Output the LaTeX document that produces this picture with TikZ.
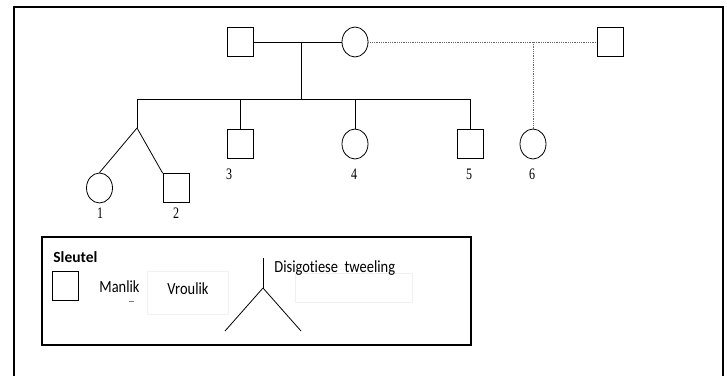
\documentclass[tikz,border=0pt]{standalone}
\usepackage{fontspec}
\setmainfont{Liberation Serif}
\newfontfamily\keyfont[Ligatures=NoCommon]{Carlito}
\usetikzlibrary{positioning,shapes.geometric}
\newcommand{\narrowtext}[2]{\scalebox{#1}[1]{#2}}
\tikzset{male/.style={draw,rectangle,inner sep=0pt,minimum width=26pt,minimum height=29pt}}
\tikzset{female/.style={draw,ellipse,inner sep=0pt,minimum width=26pt,minimum height=30pt}}
\tikzset{num/.style={font=\fontsize{16}{16}\selectfont,inner sep=0pt}}
\tikzset{keytext/.style={font=\keyfont\fontsize{17}{17}\selectfont,inner sep=0pt,anchor=west}}

\begin{document}
\begin{tikzpicture}[x=1pt,y=-1pt,line width=0.8pt]
      \useasboundingbox (0,0) rectangle (727,375);
      \clip (0,0) rectangle (727,375);
      \draw[line width=2.6pt] (14,7) rectangle (723,390);
      % parents
      \node[male] (fa) at (240,42) {};
      \node[female] (mo) at (355,42) {};
      \node[male] (st) at (610,42) {};
      % children
      \node[female] (t1) at (99.5,188) {};
      \node[male] (t2) at (176,188) {};
      \node[male] (c3) at (240,144) {};
      \node[female] (c4) at (355,144) {};
      \node[male] (c5) at (470,144) {};
      \node[female] (c6) at (533,144) {};
      \coordinate (mid) at (301,42);
      \coordinate (sib) at (301,99);
      \coordinate (sibl) at (137,99);
      \coordinate (sibr) at (470,99);
      \coordinate (apex) at (137,128);
      \coordinate (half) at (533,42);
      \draw (fa) -- (mo);
      \draw (mid) -- (sib);
      \draw (sibl) -- (sibr);
      \draw (sibl) -- (apex);
      \draw (apex) -- (t1.north);
      \draw (apex) -- (t2.north west);
      \draw (c3.north |- sibl) -- (c3.north);
      \draw (c4.north |- sibl) -- (c4.north);
      \draw (c5.north |- sibl) -- (c5.north);
      \draw[densely dotted,gray!80!black] (mo) -- (st);
      \draw[densely dotted,gray!80!black] (half) -- (c6.north);
      \node[num] (n1) at (100,213) {\narrowtext{0.75}{1}};
      \node[num] (n2) at (176,213) {\narrowtext{0.75}{2}};
      \node[num] (n3) at (229,174) {\narrowtext{0.75}{3}};
      \node[num] (n4) at (354,174) {\narrowtext{0.75}{4}};
      \node[num] (n5) at (469,174) {\narrowtext{0.75}{5}};
      \node[num] (n6) at (532,174) {\narrowtext{0.75}{6}};
      % key
      \draw[line width=2.6pt] (42,237) rectangle (471,345);
      \node[keytext,font=\keyfont\bfseries\fontsize{15.5}{15.5}\selectfont] (sleutel) at (53,257) {Sleutel};
      \node[male] (km) at (65,286) {};
      \node[keytext] (manlik) at (99,287) {\narrowtext{0.85}{Manlik}};
      \draw[gray,line width=0.6pt] (129,301) to[bend right=20] (134,301);
      \draw[gray!12,line width=0.6pt] (147,271) rectangle (228,314);
      \node[keytext] (vroulik) at (167,289) {\narrowtext{0.85}{Vroulik}};
      \coordinate (ktop) at (263,258);
      \coordinate (kapex) at (263,288);
      \coordinate (kl) at (225,331);
      \coordinate (kr) at (301,331);
      \draw (ktop) -- (kapex);
      \draw (kapex) -- (kl);
      \draw (kapex) -- (kr);
      \draw[gray!12,line width=0.6pt] (295,273) rectangle (412,302);
      \node[keytext] (twin) at (274,268) {\narrowtext{0.85}{Disigotiese\ \ tweeling}};
    \end{tikzpicture}
\end{document}
